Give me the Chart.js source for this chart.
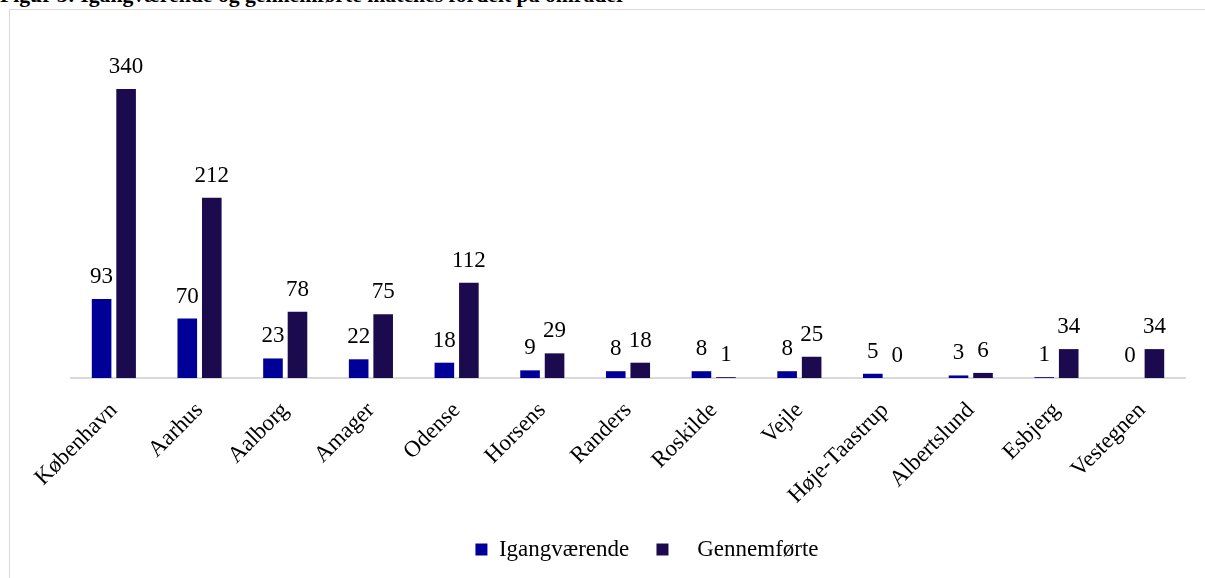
<!DOCTYPE html>
<html lang="da">
<head>
<meta charset="UTF-8">
<title>Figur 5</title>
<script src="https://cdn.jsdelivr.net/npm/chart.js"></script>
<style>
  body { margin: 0; background: #fff; width: 1205px; height: 578px; overflow: hidden; position: relative; font-family: "Liberation Serif", serif; }
  #title { position: absolute; left: 0; top: -16px; font-weight: bold; font-size: 21.7px; line-height: 22px; white-space: nowrap; color: #000; }
  #box { position: absolute; left: 9px; top: 9px; width: 1205px; height: 578px; border: 1px solid #d9d9d9; box-sizing: border-box; }
  #wrap { position: absolute; left: 10px; top: 10px; width: 1195px; height: 568px; }
</style>
</head>
<body>
<div id="title">Figur 5: Igangværende og gennemførte matches fordelt på områder</div>
<div id="box"></div>
<div id="wrap"><canvas id="chart"></canvas></div>
<script>
// categories and values
const omraader = ["København", "Aarhus", "Aalborg", "Amager", "Odense", "Horsens", "Randers", "Roskilde", "Vejle", "Høje-Taastrup", "Albertslund", "Esbjerg", "Vestegnen"];
const igangvaerende = [93, 70, 23, 22, 18, 9, 8, 8, 8, 5, 3, 1, 0];
const gennemfoerte = [340, 212, 78, 75, 112, 29, 18, 1, 25, 0, 6, 34, 34];

// value labels above each bar
const barLabels = {
  id: "barLabels",
  afterDatasetsDraw(chart) {
    const ctx = chart.ctx;
    ctx.save();
    ctx.font = "23px 'Liberation Serif'";
    ctx.fillStyle = "#000";
    ctx.textAlign = "center";
    ctx.textBaseline = "alphabetic";
    chart.data.datasets.forEach((ds, i) => {
      chart.getDatasetMeta(i).data.forEach((bar, j) => {
        ctx.fillText(ds.data[j], bar.x, bar.y - 16);
      });
    });
    ctx.restore();
  }
};

// nudge legend a bit to the right, like the original
const legendShift = {
  id: "legendShift",
  afterLayout(chart) {
    chart.legend.left += 19;
    chart.legend.right += 19;
  }
};

new Chart(document.getElementById("chart"), {
  type: "bar",
  data: {
    labels: omraader,
    datasets: [
      { label: "Igangværende   ", data: igangvaerende, backgroundColor: "#000099", categoryPercentage: 0.572, barPercentage: 0.8 },
      { label: "   Gennemførte", data: gennemfoerte, backgroundColor: "#1c0a4f", categoryPercentage: 0.572, barPercentage: 0.8 }
    ]
  },
  options: {
    responsive: true,
    maintainAspectRatio: false,
    animation: false,
    layout: { padding: { left: 61, right: 20, top: 28, bottom: 7 } },
    scales: {
      x: {
        grid: { display: false, drawTicks: false },
        border: { color: "#d9d9d9", width: 2 },
        ticks: { minRotation: 45, maxRotation: 45, color: "#000", font: { family: "Liberation Serif", size: 23 }, padding: 19 },
        afterFit(scale) { scale.height = 150; }
      },
      y: { display: false, min: 0, max: 400 }
    },
    plugins: {
      legend: {
        position: "bottom",
        labels: { boxWidth: 12, boxHeight: 12, color: "#000", font: { family: "Liberation Serif", size: 23 }, padding: 10 }
      },
      tooltip: { enabled: false }
    }
  },
  plugins: [barLabels, legendShift]
});
</script>
</body>
</html>
